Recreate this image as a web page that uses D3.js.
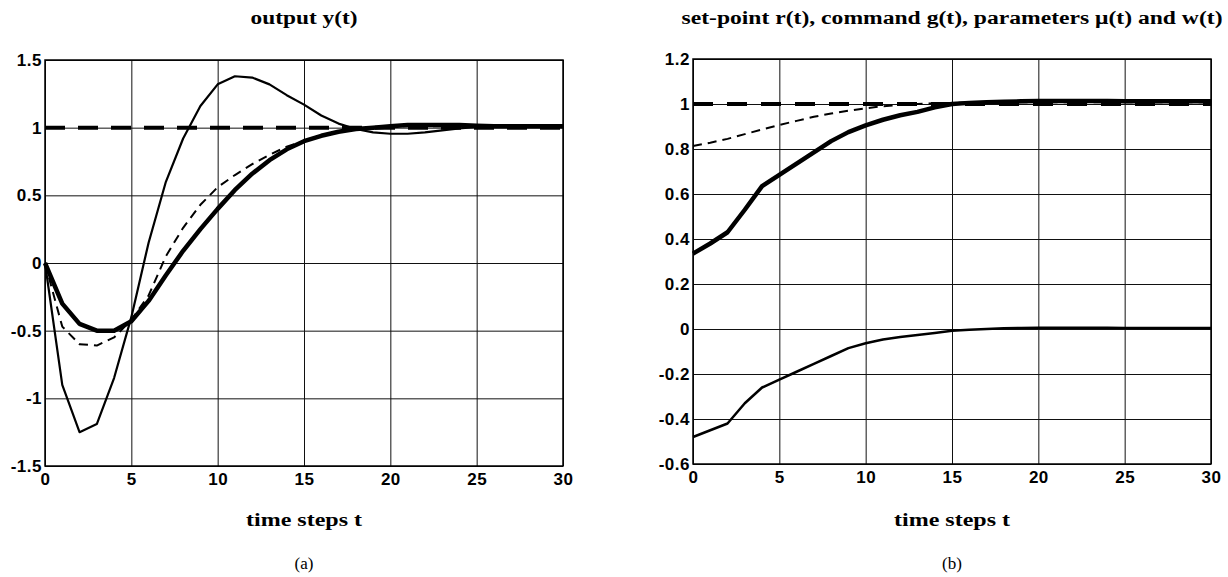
<!DOCTYPE html>
<html lang="en">
    <head>
        <meta charset="utf-8">
        <title>Step responses</title>
        <script src="https://d3js.org/d3.v7.min.js"></script>
        <style type="text/css">
            body { margin: 0; background: #fff; }
            .tick text { font: bold 17px "Liberation Sans", Arial, sans-serif; letter-spacing: 0.5px; fill: #000; }
            .tick line { stroke: #111; stroke-width: 1px; }
            .title { font: bold 18px "Liberation Serif", "Times New Roman", serif; }
            .xlab { font: bold 19px "Liberation Serif", "Times New Roman", serif; }
        </style>
    </head>
    <body>
    <div id="viz"></div>
<script type="text/javascript">

// time steps 0..30
var steps = d3.range(0, 31);
var xTicks = [0, 5, 10, 15, 20, 25, 30];

// (a) output y(t)
var aTicks = [-1.5, -1, -0.5, 0, 0.5, 1, 1.5];
var aSetpoint = steps.map(function() { return 1; });
var aThin = [0, -0.9, -1.25, -1.19, -0.85, -0.4, 0.15, 0.6, 0.92, 1.16, 1.32, 1.38, 1.37, 1.32, 1.24, 1.17,
             1.09, 1.03, 0.99, 0.965, 0.955, 0.955, 0.965, 0.98, 0.995, 1.005, 1.01, 1.01, 1.01, 1.01, 1.01];
var aDashed = [0, -0.47, -0.6, -0.61, -0.55, -0.42, -0.24, 0.05, 0.26, 0.43, 0.56, 0.65, 0.73, 0.8, 0.86, 0.9,
               0.94, 0.97, 0.99, 1.0, 1.01, 1.01, 1.01, 1.01, 1.01, 1.01, 1.01, 1.01, 1.01, 1.01, 1.01];
var aThick = [0, -0.3, -0.45, -0.5, -0.5, -0.43, -0.28, -0.09, 0.09, 0.25, 0.4, 0.54, 0.66, 0.76, 0.84, 0.9,
              0.94, 0.97, 0.99, 1.0, 1.01, 1.02, 1.02, 1.02, 1.02, 1.015, 1.01, 1.01, 1.01, 1.01, 1.01];

// (b) set-point, command, parameters
var bTicks = [-0.6, -0.4, -0.2, 0, 0.2, 0.4, 0.6, 0.8, 1, 1.2];
var bSetpoint = steps.map(function() { return 1; });
var bCommand = [0.813, 0.828, 0.845, 0.866, 0.887, 0.907, 0.925, 0.943, 0.958, 0.97, 0.981, 0.99, 0.996, 1.0, 1.003, 1.005,
                1.007, 1.008, 1.008, 1.008, 1.008, 1.008, 1.008, 1.008, 1.008, 1.008, 1.008, 1.008, 1.008, 1.008, 1.008];
var bUpper = [0.335, 0.38, 0.43, 0.53, 0.635, 0.685, 0.735, 0.785, 0.835, 0.875, 0.905, 0.93, 0.95, 0.965, 0.985, 1.0,
              1.005, 1.008, 1.01, 1.012, 1.013, 1.013, 1.013, 1.013, 1.013, 1.012, 1.012, 1.012, 1.012, 1.012, 1.012];
var bLower = [-0.48, -0.45, -0.42, -0.33, -0.26, -0.225, -0.19, -0.155, -0.12, -0.085, -0.063, -0.047, -0.036, -0.027, -0.018, -0.008,
              -0.003, 0, 0.003, 0.005, 0.006, 0.006, 0.006, 0.006, 0.006, 0.005, 0.005, 0.005, 0.005, 0.005, 0.005];

var svg = d3.select("#viz")
  .append("svg")
    .attr("width", 1228)
    .attr("height", 577);

// plain hyphen minus like the original plot
function fmt(d) { return String(+d.toFixed(1)); }

function panel(opt) {
    var x = d3.scaleLinear().domain([0, 30]).range([opt.left, opt.right]);
    var y = d3.scaleLinear().domain(opt.ydom).range([opt.bottom, opt.top]);
    var h = opt.bottom - opt.top, w = opt.right - opt.left;
    var g = svg.append("g");

    // grid + tick labels
    g.append("g")
        .attr("transform", "translate(0," + opt.bottom + ")")
        .call(d3.axisBottom(x).tickValues(xTicks).tickSize(-h).tickPadding(7).tickFormat(fmt))
        .call(function(a) { a.select(".domain").remove(); });
    g.append("g")
        .attr("transform", "translate(" + opt.left + ",0)")
        .call(d3.axisLeft(y).tickValues(opt.yticks).tickSize(-w).tickPadding(3).tickFormat(fmt))
        .call(function(a) { a.select(".domain").remove(); });

    g.append("rect")
        .attr("x", opt.left).attr("y", opt.top)
        .attr("width", w).attr("height", h)
        .attr("fill", "none").attr("stroke", "#000").attr("stroke-width", 1.5);

    var line = d3.line()
        .x(function(d, i) { return x(steps[i]); })
        .y(function(d) { return y(d); });

    opt.series.forEach(function(s) {
        g.append("path")
            .datum(s.values)
            .attr("d", line)
            .attr("fill", "none")
            .attr("stroke", "#000")
            .attr("stroke-width", s.width)
            .attr("stroke-linejoin", "round")
            .attr("stroke-dasharray", s.dash || null);
    });

    var cx = (opt.left + opt.right) / 2;
    g.append("text").attr("class", "title")
        .attr("x", cx).attr("y", 24).attr("text-anchor", "middle")
        .attr("textLength", opt.titleLen).attr("lengthAdjust", "spacingAndGlyphs")
        .text(opt.title);
    g.append("text").attr("class", "xlab")
        .attr("x", cx).attr("y", 526).attr("text-anchor", "middle")
        .attr("textLength", 116).attr("lengthAdjust", "spacingAndGlyphs")
        .text("time steps t");
    g.append("text")
        .attr("x", cx).attr("y", 569).attr("text-anchor", "middle")
        .style("font-family", "'Liberation Serif', 'Times New Roman', serif")
        .style("font-size", "17px")
        .text(opt.cap);
}

panel({
    left: 45, right: 563, top: 60, bottom: 466,
    ydom: [-1.5, 1.5], yticks: aTicks,
    title: "output y(t)", titleLen: 107, cap: "(a)",
    series: [
        {values: aSetpoint, width: 4, dash: "20,13"},
        {values: aThin, width: 2.2},
        {values: aDashed, width: 2, dash: "9,6"},
        {values: aThick, width: 4.5}
    ]
});

panel({
    left: 693, right: 1211, top: 59, bottom: 464,
    ydom: [-0.6, 1.2], yticks: bTicks,
    title: "set-point r(t), command g(t), parameters \u03bc(t) and w(t)", titleLen: 541, cap: "(b)",
    series: [
        {values: bSetpoint, width: 4, dash: "20,14"},
        {values: bCommand, width: 2, dash: "9,6"},
        {values: bUpper, width: 4.5},
        {values: bLower, width: 2.5}
    ]
});

</script>
    </body>
</html>
